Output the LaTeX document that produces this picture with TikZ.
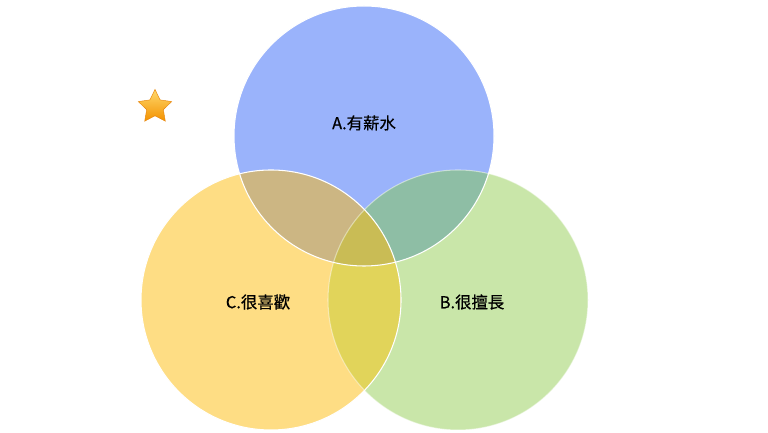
\documentclass[tikz,border=0pt]{standalone}
\usepackage{fontspec}
\usepackage{tikz}
\usetikzlibrary{shapes.geometric}
\newfontfamily\cjk[FakeBold=0.6]{Noto Sans CJK TC}
\definecolor{BlueF}  {HTML}{9AB3FB}
\definecolor{GreenF} {HTML}{C9E6A9}
\definecolor{YellowF}{HTML}{FEDD84}
\definecolor{BYF}    {HTML}{CCB683}
\definecolor{BGF}    {HTML}{8EBEA5}
\definecolor{YGF}    {HTML}{E1D45A}
\definecolor{MidF}   {HTML}{C9BC55}
\definecolor{StarT}  {HTML}{FFD86C}
\definecolor{StarB}  {HTML}{F39200}
\definecolor{StarD}  {HTML}{E8860C}
\tikzset{
  vlbl/.style={
    font=\cjk\fontsize{14}{16}\selectfont, text=black,
    inner sep=0pt,
  },
  vedge/.style={
    draw=white, line width=0.9pt,
  },
  starbox/.style={
    star, star points=5, star point ratio=2.0,
    minimum size=1.05cm, inner sep=0pt,
    top color=StarT, bottom color=StarB,
    draw=StarD, line width=0.4pt,
  },
}
\begin{document}
\begin{tikzpicture}[x=0.03cm,y=0.03cm]
  \useasboundingbox (0,0) rectangle (768,433);
  \coordinate (cA) at (364,297);
  \coordinate (cB) at (458,133);
  \coordinate (cC) at (271,133);
  % base circles
  \fill[BlueF]   (cA) circle (130);
  \fill[GreenF]  (cB) circle (130);
  \fill[YellowF] (cC) circle (130);
  % overlaps
  \begin{scope}
    \clip (cA) circle (130);
    \fill[BYF] (cC) circle (130);
    \fill[BGF] (cB) circle (130);
  \end{scope}
  \begin{scope}
    \clip (cC) circle (130);
    \fill[YGF] (cB) circle (130);
    \clip (cB) circle (130);
    \fill[MidF] (cA) circle (130);
  \end{scope}
  % outlines
  \draw[vedge] (cA) circle (130);
  \draw[vedge, draw opacity=0.45] (cB) circle (130);
  \draw[vedge] (cC) circle (130);
  % labels
  \node[vlbl] (la) at (364,310) {A.有薪水};
  \node[vlbl] (lb) at (472,131) {B.很擅長};
  \node[vlbl] (lc) at (258,131) {C.很喜歡};
  \node[starbox] (st) at (155,326) {};
\end{tikzpicture}
\end{document}
